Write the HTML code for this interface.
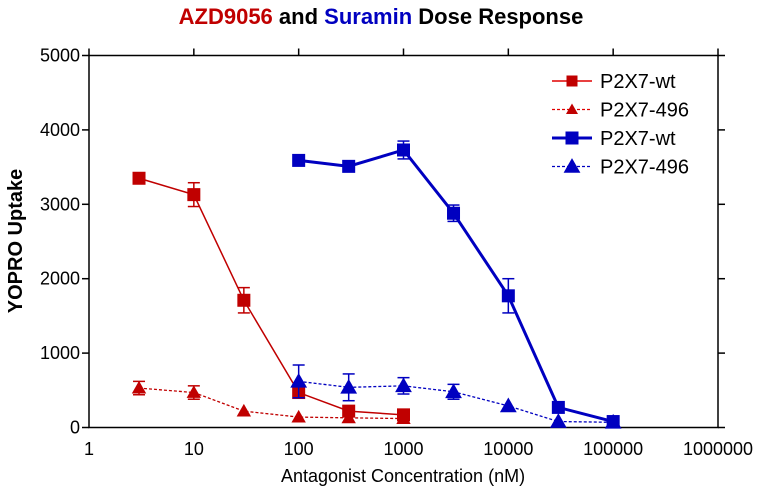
<!DOCTYPE html>
<html><head><meta charset="utf-8"><style>
body{margin:0;background:#fff;}
svg{display:block;font-family:"Liberation Sans",sans-serif;}
</style></head><body>
<svg id="c" width="762" height="494">
<text x="381" y="24" text-anchor="middle" font-size="22" font-weight="bold"><tspan fill="#c00000">AZD9056</tspan><tspan fill="#000"> and </tspan><tspan fill="#0000c0">Suramin</tspan><tspan fill="#000"> Dose Response</tspan></text>
<text transform="translate(22,241) rotate(-90)" text-anchor="middle" font-size="20" font-weight="bold">YOPRO Uptake</text>
<text x="403" y="482" text-anchor="middle" font-size="18">Antagonist Concentration (nM)</text>
<g id="axes"></g>
<g id="marks"></g>
<g id="legend"></g>
</svg>
<script>
const xTicks=[1,10,100,1000,10000,100000,1000000];
const xTickLabels=["1","10","100","1000","10000","100000","1000000"];
const yTicks=[0,1000,2000,3000,4000,5000];
const seriesNames=["P2X7-wt","P2X7-496","P2X7-wt","P2X7-496"];
const azdX=[3,10,30,100,300,1000];
const azdWt=[3350,3130,1710,470,220,170];
const azdWtErr=[0,160,170,0,0,0];
const azd496=[530,470,220,140,130,120];
const azd496Err=[90,90,0,0,0,0];
const surX=[100,300,1000,3000,10000,30000,100000];
const surWt=[3590,3510,3730,2880,1770,270,80];
const surWtErr=[0,0,120,110,230,0,0];
const sur496=[620,540,560,480,290,80,70];
const sur496Err=[220,180,110,100,0,0,0];

const L=89,R=718,T=55.5,B=427.5;
const xs=v=>L+(Math.log10(v)-0)/6*(R-L);
const ys=v=>B-v/5000*(B-T);
const NS="http://www.w3.org/2000/svg";
function mk(tag,attrs,parent){const e=document.createElementNS(NS,tag);for(const k in attrs)e.setAttribute(k,attrs[k]);parent.appendChild(e);return e;}
const axes=document.getElementById('axes'),marks=document.getElementById('marks'),leg=document.getElementById('legend');
let f=mk('rect',{x:L,y:T,width:R-L,height:B-T,fill:'none',stroke:'#000','stroke-width':1.5},axes);


xTicks.forEach((t,i)=>{
  const x=xs(t);
  mk('line',{x1:x,x2:x,y1:T,y2:T-7,stroke:'#000','stroke-width':1.5},axes);
  const tl=mk('text',{x:x,y:455,'text-anchor':'middle','font-size':18},axes);
  tl.textContent=xTickLabels[i];
  
  
});
yTicks.forEach(t=>{
  const y=ys(t);
  mk('line',{x1:L,x2:L-7,y1:y,y2:y,stroke:'#000','stroke-width':1.5},axes);
  mk('line',{x1:R,x2:R+7,y1:y,y2:y,stroke:'#000','stroke-width':1.5},axes);
  const tl=mk('text',{x:80,y:y+6,'text-anchor':'end','font-size':18},axes);
  tl.textContent=String(t);
  
  
});
function marker(g,shape,x,y,color,s){
  if(shape==='sq') return mk('rect',{x:x-s/2,y:y-s/2,width:s,height:s,fill:color},g);
  return mk('polygon',{points:`${x},${y-s*0.6} ${x-s*0.6},${y+s*0.45} ${x+s*0.6},${y+s*0.45}`,fill:color},g);
}
function series(name,xv,yv,ev,color,w,dash,shape,s){
  const g=mk('g',{},marks);
  
  
  const pts=xv.map((x,i)=>xs(x)+','+ys(yv[i])).join(' ');
  mk('polyline',{points:pts,fill:'none',stroke:color,'stroke-width':w,'stroke-dasharray':dash},g);
  xv.forEach((x,i)=>{
    if(ev[i]>0){const cx=xs(x);
      mk('line',{x1:cx,x2:cx,y1:ys(yv[i]-ev[i]),y2:ys(yv[i]+ev[i]),stroke:color,'stroke-width':1.5},g);
      [yv[i]-ev[i],yv[i]+ev[i]].forEach(v=>mk('line',{x1:cx-6,x2:cx+6,y1:ys(v),y2:ys(v),stroke:color,'stroke-width':1.5},g));}
    const m=marker(g,shape,xs(x),ys(yv[i]),color,s);
    
    
  });
}
series('azd-wt-series',azdX,azdWt,azdWtErr,'#c00000',1.5,'none','sq',13);
series('azd-496-series',azdX,azd496,azd496Err,'#c00000',1.3,'3,2','tri',12);
series('suramin-wt-series',surX,surWt,surWtErr,'#0000c0',3,'none','sq',13);
series('suramin-496-series',surX,sur496,sur496Err,'#0000c0',1.3,'3,2','tri',14);
const legStyle=[['#e00000',1.5,'none','sq','#c00000',11],['#e00000',1.3,'3,2','tri','#c00000',10],['#0000c0',3,'none','sq','#0000c0',13],['#0000c0',1.3,'3,2','tri','#0000c0',14]];
seriesNames.forEach((n,i)=>{
  const y=81+i*28.5,st=legStyle[i];
  const g=mk('g',{},leg);
  
  
  mk('line',{x1:552,x2:592,y1:y,y2:y,stroke:st[0],'stroke-width':st[1],'stroke-dasharray':st[2]},g);
  marker(g,st[3],572,y,st[4],st[5]);
  const t=mk('text',{x:600,y:y+7,'font-size':20},g);
  t.textContent=n;
});
</script>
</body></html>
